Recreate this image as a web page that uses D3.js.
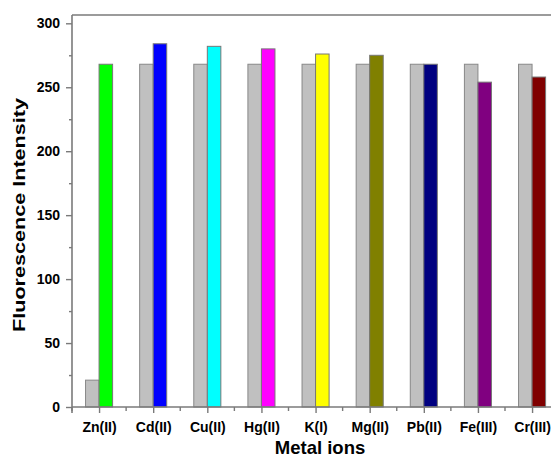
<!DOCTYPE html>
<html>
<head>
<meta charset="utf-8">
<script src="https://cdn.jsdelivr.net/npm/d3@7"></script>
<style>
  html, body { margin: 0; padding: 0; background: #fff; }
  svg { display: block; }
  text { font-family: "Liberation Sans", Arial, sans-serif; font-weight: bold; fill: #000; }
</style>
</head>
<body>
<svg id="chart" width="551" height="459"></svg>
<script>
const categories = ["Zn(II)", "Cd(II)", "Cu(II)", "Hg(II)", "K(I)", "Mg(II)", "Pb(II)", "Fe(III)", "Cr(III)"];
const blankValues = [21, 268, 268, 268, 268, 268, 268, 268, 268];
const ionValues = [268, 284, 282, 280, 276, 275, 268, 254, 258];
const ionColors = ["#00ff00", "#0000ff", "#00ffff", "#ff00ff", "#ffff00", "#808000", "#000080", "#800080", "#800000"];
const yMajorTicks = [0, 50, 100, 150, 200, 250, 300];
const yMinorTicks = [25, 75, 125, 175, 225, 275];
const xTitle = "Metal ions";
const yTitle = "Fluorescence Intensity";

(function () {
const svg = d3.select("#chart");
const mLeft = 72, mTop = 15, mBottom = 407;
const bandStep = 54.125;
const mRight = mLeft + categories.length * bandStep;
const axisColor = "#7a7a7a";

const x = d3.scaleBand().domain(categories).range([mLeft, mRight]).paddingInner(0.5).paddingOuter(0.25);
const y = d3.scaleLinear().domain([0, 306.5]).range([mBottom, mTop]);
const half = x.bandwidth() / 2;

// bars
const g = svg.append("g");
g.selectAll("rect.blank").data(categories).join("rect")
  .attr("class", "blank")
  .attr("x", (d) => x(d))
  .attr("y", (d, i) => y(blankValues[i]))
  .attr("width", half)
  .attr("height", (d, i) => y(0) - y(blankValues[i]))
  .attr("fill", "#c0c0c0")
  .attr("stroke", "#888")
  .attr("stroke-width", 1);

g.selectAll("rect.ion").data(categories).join("rect")
  .attr("class", "ion")
  .attr("x", (d) => x(d) + half)
  .attr("y", (d, i) => y(ionValues[i]))
  .attr("width", half)
  .attr("height", (d, i) => y(0) - y(ionValues[i]))
  .attr("fill", (d, i) => ionColors[i])
  .attr("stroke", "#777")
  .attr("stroke-width", 1);

// frame top / right
svg.append("line").attr("x1", mLeft).attr("x2", mRight).attr("y1", mTop).attr("y2", mTop)
  .attr("stroke", axisColor).attr("stroke-width", 1.6);
svg.append("line").attr("x1", mRight).attr("x2", mRight).attr("y1", mTop).attr("y2", mBottom)
  .attr("stroke", axisColor).attr("stroke-width", 1.6);

// y axis
const yAxis = svg.append("g").attr("transform", `translate(${mLeft},0)`)
  .call(d3.axisLeft(y).tickValues(yMajorTicks).tickSize(6).tickPadding(6).tickSizeOuter(0));
svg.append("g").attr("transform", `translate(${mLeft},0)`)
  .call(d3.axisLeft(y).tickValues(yMinorTicks).tickSize(3).tickFormat("").tickSizeOuter(0))
  .select(".domain").remove();
yAxis.select(".domain").attr("d", `M0,${mTop}V${mBottom + 6}`);

// x axis
const xCenter = (d) => x(d) + half;
const xAxis = svg.append("g").attr("transform", `translate(0,${mBottom})`)
  .call(d3.axisBottom(d3.scaleOrdinal().domain(categories).range(categories.map(xCenter)))
    .tickSize(6).tickPadding(9).tickSizeOuter(0));
xAxis.select(".domain").attr("d", `M${mLeft},0H${mRight}`);
const boundaries = d3.range(categories.length + 1).map((i) => mLeft + i * bandStep);
svg.append("g").attr("transform", `translate(0,${mBottom})`)
  .selectAll("line").data(boundaries).join("line")
  .attr("x1", (d) => d).attr("x2", (d) => d).attr("y1", 0).attr("y2", 4)
  .attr("stroke", axisColor).attr("stroke-width", 1.4);

svg.selectAll(".domain").attr("stroke", axisColor).attr("stroke-width", 1.6);
svg.selectAll(".tick line").attr("stroke", axisColor).attr("stroke-width", 1.4);
svg.selectAll(".tick text").attr("font-size", 14)
  .attr("font-family", "'Liberation Sans', Arial, sans-serif").attr("font-weight", "bold").attr("fill", "#000");

// titles
svg.append("text").attr("x", 320).attr("y", 454).attr("text-anchor", "middle")
  .attr("font-size", 18.5).text(xTitle);
svg.append("text").attr("transform", "translate(25,215) rotate(-90)")
  .attr("text-anchor", "middle").attr("font-size", 17)
  .attr("textLength", 234).attr("lengthAdjust", "spacingAndGlyphs").text(yTitle);
})();
</script>
</body>
</html>
